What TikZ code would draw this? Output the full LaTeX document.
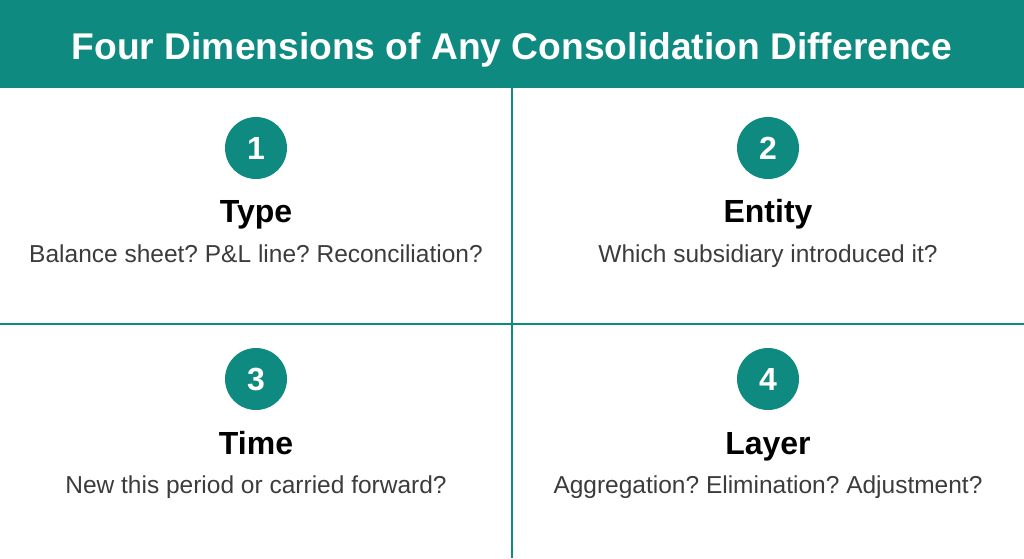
\documentclass[tikz,border=0pt]{standalone}
\usepackage{fontspec}
\setmainfont{Liberation Sans}
\definecolor{teal1}{HTML}{0E8A80}
\definecolor{subgray}{HTML}{3C3C3C}
\frenchspacing
\begin{document}
\begin{tikzpicture}[x=1pt,y=-1pt,
  numcirc/.style={circle,fill=teal1,minimum size=62pt,inner sep=0pt,text=white,font=\fontsize{32}{32}\selectfont\bfseries},
  head/.style={anchor=base,text=black,font=\fontsize{32}{32}\selectfont\bfseries,inner sep=0pt},
  sub/.style={anchor=base,text=subgray,font=\fontsize{24.5}{24.5}\selectfont,inner sep=0pt},
  divider/.style={draw=teal1,line width=2pt}]
\useasboundingbox (0,0) rectangle (1024,558);
\fill[white] (0,0) rectangle (1024,558);
\fill[teal1] (0,0) rectangle (1024,88);
\node[anchor=base,text=white,inner sep=0pt,font=\fontsize{37.2}{37.2}\selectfont\bfseries] (title) at (512,59) {Four Dimensions of Any Consolidation Difference};
% dividers
\coordinate (vtop) at (512,88);
\coordinate (vbot) at (512,558);
\coordinate (hl) at (0,323.5);
\coordinate (hr) at (1024,323.5);
\draw[divider] (vtop) -- (vbot);
\draw[divider] (hl) -- (hr);
% quadrant 1
\node[numcirc] (n1) at (256,148) {1};
\node[head] (h1) at (256,222) {Type};
\node[sub] (s1) at (256,262) {Balance sheet? P\&L line? Reconciliation?};
% quadrant 2
\node[numcirc] (n2) at (768,148) {2};
\node[head] (h2) at (768,222) {Entity};
\node[sub] (s2) at (768,262) {Which subsidiary introduced it?};
% quadrant 3
\node[numcirc] (n3) at (256,379) {3};
\node[head] (h3) at (256,454) {Time};
\node[sub] (s3) at (256,493) {New this period or carried forward?};
% quadrant 4
\node[numcirc] (n4) at (768,379) {4};
\node[head] (h4) at (768,454) {Layer};
\node[sub] (s4) at (768,493) {Aggregation? Elimination? Adjustment?};
\end{tikzpicture}
\end{document}
